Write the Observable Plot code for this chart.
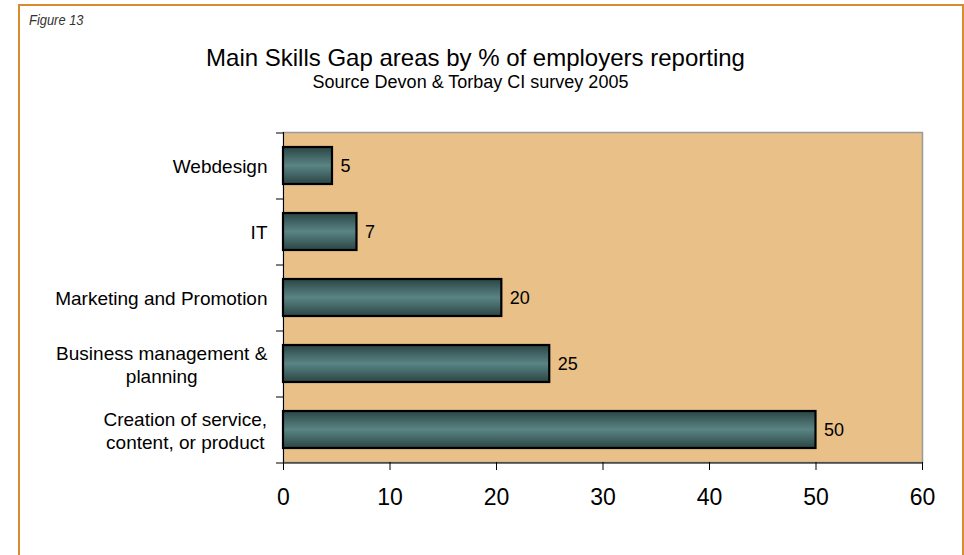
<!DOCTYPE html>
<html>
<head>
<meta charset="utf-8">
<script src="https://cdn.jsdelivr.net/npm/d3@7"></script>
<script src="https://cdn.jsdelivr.net/npm/@observablehq/plot@0.6"></script>
<style>
  html, body { margin: 0; padding: 0; background: #fff; }
  #wrap { position: relative; width: 964px; height: 555px; overflow: hidden; font-family: "Liberation Sans", Arial, sans-serif; }
  #border { position: absolute; left: 18px; top: 4px; width: 946px; height: 700px; border: 2.5px solid #D98B2E; box-sizing: border-box; }
  #fig { position: absolute; left: 29px; top: 11px; font-family: "Liberation Sans", Arial, sans-serif; font-style: italic; font-size: 15px; color: #333; transform: scaleX(0.86); transform-origin: left top; white-space: nowrap; }
  #title { position: absolute; left: 0; width: 951px; top: 44px; text-align: center; font-size: 24px; color: #000; }
  #sub { position: absolute; left: 0; width: 941px; top: 72px; text-align: center; font-size: 18px; color: #000; }
  #chart { position: absolute; left: 0; top: 0; }
</style>
</head>
<body>
<div id="wrap">
  <div id="border"></div>
  <div id="fig">Figure 13</div>
  <div id="title">Main Skills Gap areas by % of employers reporting</div>
  <div id="sub">Source Devon &amp; Torbay CI survey 2005</div>
  <div id="chart"></div>
</div>
<script>
const categories = [
  "Webdesign",
  "IT",
  "Marketing and Promotion",
  "Business management &\nplanning",
  "Creation of service,\ncontent, or product"
];
const values = [4.6, 6.9, 20.5, 25, 50];
const valueLabels = ["5", "7", "20", "25", "50"];
const xTicks = [0, 10, 20, 30, 40, 50, 60];

const data = categories.map((c, i) => ({category: c, value: values[i], label: valueLabels[i]}));
const step = (462 - 132) / categories.length;

const chart = Plot.plot({
  width: 964,
  height: 555,
  marginLeft: 283,
  marginRight: 42,
  marginTop: 132,
  marginBottom: 93,
  style: {background: "transparent", fontFamily: "'Liberation Sans', Arial, sans-serif", color: "#000"},
  x: {domain: [0, 60], ticks: xTicks},
  y: {domain: categories, paddingInner: 0.44, paddingOuter: 0.22, label: null},
  marks: [
    Plot.frame({fill: "#E8C088", stroke: "#9a9a9a", strokeWidth: 1.5}),
    Plot.ruleX([0], {stroke: "#000", strokeWidth: 1}),
    Plot.ruleY(categories, {y: d => d, x1: -0.66, x2: 0, dy: -step / 2, stroke: "#000"}),
    Plot.ruleY([categories[categories.length - 1]], {y: d => d, x1: -0.66, x2: 60, dy: step / 2, stroke: "#000"}),
    Plot.barX(data, {y: "category", x: "value", fill: "url(#barGrad)", stroke: "#000", strokeWidth: 2.2}),
    Plot.text(data, {y: "category", x: "value", text: "label", dx: 8, textAnchor: "start", fontSize: 18, fill: "#000"}),
    Plot.axisX({ticks: xTicks, tickSize: 8, tickPadding: 18, fontSize: 23, label: null, stroke: "#000"}),
    Plot.axisY({tickSize: 0, tickPadding: 16, fontSize: 19, lineHeight: 1.2, label: null})
  ]
});

// gradient definition for the bars
const ns = "http://www.w3.org/2000/svg";
const defs = document.createElementNS(ns, "defs");
const grad = document.createElementNS(ns, "linearGradient");
grad.setAttribute("id", "barGrad");
grad.setAttribute("x1", "0"); grad.setAttribute("y1", "0");
grad.setAttribute("x2", "0"); grad.setAttribute("y2", "1");
[["0", "#2B4545"], ["0.5", "#5A8484"], ["1", "#2B4545"]].forEach(([o, c]) => {
  const s = document.createElementNS(ns, "stop");
  s.setAttribute("offset", o); s.setAttribute("stop-color", c);
  grad.appendChild(s);
});
defs.appendChild(grad);
chart.insertBefore(defs, chart.firstChild);

document.getElementById("chart").appendChild(chart);

// center multi-line y labels within their block
chart.querySelectorAll("g[aria-label='y-axis tick label'] text").forEach(t => {
  const spans = t.querySelectorAll("tspan");
  if (spans.length > 1) {
    const w = t.getBBox().width;
    t.setAttribute("text-anchor", "middle");
    spans.forEach(s => {
      const x0 = parseFloat(s.getAttribute("x") || "0");
      s.setAttribute("x", x0 - w / 2);
    });
  }
});
</script>
</body>
</html>
